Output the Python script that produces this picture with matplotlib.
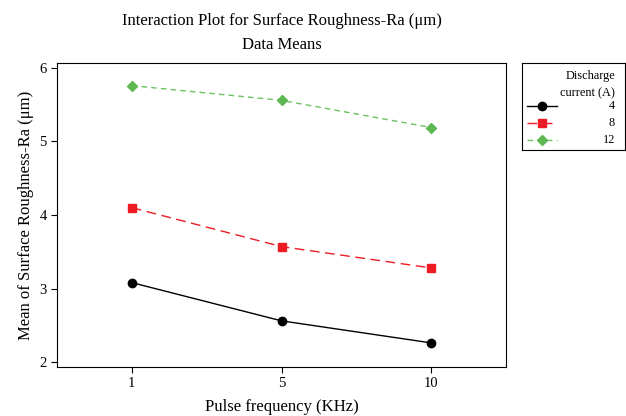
import matplotlib
matplotlib.use("Agg")
import matplotlib.pyplot as plt
from matplotlib.lines import Line2D

plt.rcParams["font.family"] = ["Liberation Serif", "DejaVu Serif"]

# ---------------------------------------------------------------------------
# Data
# ---------------------------------------------------------------------------
pulse_freq = ["1", "5", "10"]
current_levels = ["4", "8", "12"]
ra_4 = [3.08, 2.56, 2.26]
ra_8 = [4.10, 3.57, 3.28]
ra_12 = [5.76, 5.56, 5.19]

series = [ra_4, ra_8, ra_12]
styles = [
    dict(color="black", ls="-", marker="o", ms=6, mfc="black", mec="black"),
    dict(color="#ED1C24", ls=(0, (7, 4)), marker="s", ms=5.5, mfc="#ED1C24", mec="#ED1C24"),
    dict(color="#6CC160", ls=(0, (4, 3)), marker="D", ms=5.5, mfc="#5DB854", mec="#5DB854"),
]

fig = plt.figure(figsize=(6.26, 4.16), dpi=100)
ax = fig.add_axes([57 / 626, 49 / 416, 449 / 626, 304 / 416])

xs = list(range(len(pulse_freq)))
for vals, st in zip(series, styles):
    ax.plot(xs, vals, lw=1.0, **st)

ax.set_xlim(-0.5, 2.5)
ax.set_ylim(1.932, 6.068)
ax.set_xticks(xs)
ax.set_xticklabels(pulse_freq)
ax.set_yticks([2, 3, 4, 5, 6])
ax.tick_params(direction="out", length=4, labelsize=10.5, width=0.8)
for sp in ax.spines.values():
    sp.set_linewidth(0.8)

ax.set_xlabel("Pulse frequency (KHz)", fontsize=12, labelpad=6)
ax.set_ylabel("Mean of Surface Roughness-Ra (μm)", fontsize=12, labelpad=4)
ax.set_title("Interaction Plot for Surface Roughness-Ra (μm)\nData Means",
             fontsize=12, linespacing=1.7, pad=10)

# ---------------------------------------------------------------------------
# Legend box (drawn manually, labels right-aligned like the reference)
# ---------------------------------------------------------------------------
lax = fig.add_axes([522 / 626, (416 - 150) / 416, 103 / 626, 87 / 416])
lax.set_xlim(0, 103)
lax.set_ylim(87, 0)
lax.set_xticks([])
lax.set_yticks([])
for sp in lax.spines.values():
    sp.set_linewidth(0.8)
lax.text(93, 13, "Discharge", ha="right", va="center", fontsize=8.8)
lax.text(93, 30, "current (A)", ha="right", va="center", fontsize=8.8)
for i, (lab, st) in enumerate(zip(current_levels, styles)):
    y = 43 + 17 * i
    lax.add_line(Line2D([5, 35], [y, y], lw=1.0, **{k: v for k, v in st.items() if k != "marker"}))
    lax.plot([20], [y], marker=st["marker"], ms=st["ms"], mfc=st["mfc"], mec=st["mec"], ls="none")
    lax.text(93, y, lab, ha="right", va="center", fontsize=8.8)

fig.savefig("out.png", dpi=100)
